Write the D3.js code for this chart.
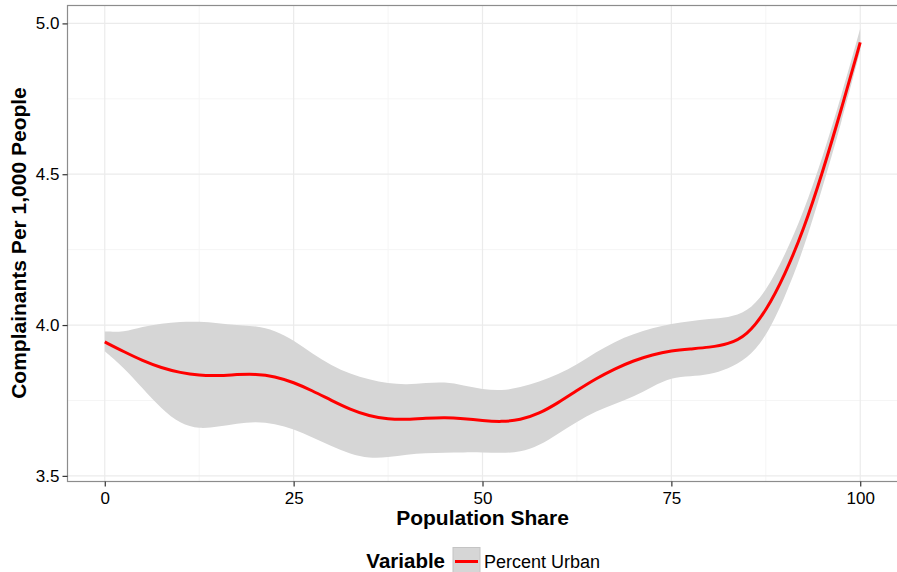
<!DOCTYPE html>
<html>
<head>
<meta charset="utf-8">
<script src="https://cdn.jsdelivr.net/npm/d3@7"></script>
<style>
  body { margin: 0; background: #fff; }
  svg { display: block; font-family: "Liberation Sans", Arial, sans-serif; }
</style>
</head>
<body>
<svg id="chart" width="897" height="572"></svg>
<script>
// values
const share = [0, 2.5, 5, 7.5, 10, 12.5, 15, 17.5, 20, 22.5, 25, 27.5, 30, 32.5, 35, 37.5, 40,
  42.5, 45, 47.5, 50, 52.5, 55, 57.5, 60, 62.5, 65, 67.5, 70, 72.5, 75, 77.5, 80, 82.5, 85,
  87.5, 90, 92.5, 95, 97.5, 100];
const fit = [3.944, 3.912, 3.882, 3.858, 3.842, 3.833, 3.832, 3.836, 3.838, 3.830, 3.810, 3.782,
  3.750, 3.720, 3.698, 3.688, 3.687, 3.691, 3.694, 3.690, 3.683, 3.679, 3.685, 3.706, 3.742,
  3.783, 3.822, 3.855, 3.882, 3.902, 3.915, 3.921, 3.926, 3.936, 3.965, 4.045, 4.165, 4.315,
  4.505, 4.715, 4.937];
const upper = [3.979, 3.976, 3.995, 4.005, 4.011, 4.012, 4.006, 4.000, 3.997, 3.983, 3.950, 3.905,
  3.866, 3.838, 3.819, 3.806, 3.802, 3.808, 3.812, 3.800, 3.787, 3.782, 3.793, 3.812, 3.836,
  3.868, 3.910, 3.945, 3.970, 3.990, 4.004, 4.013, 4.020, 4.025, 4.042, 4.110, 4.230, 4.375,
  4.555, 4.760, 4.983];
const lower = [3.913, 3.860, 3.790, 3.722, 3.672, 3.655, 3.663, 3.674, 3.680, 3.673, 3.655, 3.628,
  3.598, 3.572, 3.558, 3.561, 3.571, 3.575, 3.577, 3.578, 3.578, 3.576, 3.578, 3.600, 3.640,
  3.680, 3.714, 3.738, 3.762, 3.796, 3.826, 3.830, 3.835, 3.855, 3.888, 3.958, 4.090, 4.250,
  4.455, 4.670, 4.910];
const xTicks = [0, 25, 50, 75, 100];
const xMinor = [12.5, 37.5, 62.5, 87.5];
const yTicks = [3.5, 4.0, 4.5, 5.0];
const yMinor = [3.75, 4.25, 4.75];
const seriesName = "Percent Urban";

const data = share.map((s, i) => ({ x: s, fit: fit[i], hi: upper[i], lo: lower[i] }));

const panel = { left: 67, top: 5, right: 898, bottom: 481 };

const svg = d3.select("#chart");

const x = d3.scaleLinear().domain([-5, 105]).range([panel.left, panel.right]);
const y = d3.scaleLinear().domain([3.483, 5.061]).range([panel.bottom, panel.top]);

svg.append("clipPath").attr("id", "clip")
  .append("rect")
  .attr("x", panel.left).attr("y", panel.top)
  .attr("width", panel.right - panel.left).attr("height", panel.bottom - panel.top);

// grid
const grid = svg.append("g");
grid.selectAll(".vminor").data(xMinor).enter().append("line")
  .attr("x1", d => x(d)).attr("x2", d => x(d))
  .attr("y1", panel.top).attr("y2", panel.bottom)
  .attr("stroke", "#f5f5f5").attr("stroke-width", 1);
grid.selectAll(".hminor").data(yMinor).enter().append("line")
  .attr("y1", d => y(d)).attr("y2", d => y(d))
  .attr("x1", panel.left).attr("x2", panel.right)
  .attr("stroke", "#f5f5f5").attr("stroke-width", 1);
grid.selectAll(".vmajor").data(xTicks).enter().append("line")
  .attr("x1", d => x(d)).attr("x2", d => x(d))
  .attr("y1", panel.top).attr("y2", panel.bottom)
  .attr("stroke", "#ebebeb").attr("stroke-width", 1.2);
grid.selectAll(".hmajor").data(yTicks).enter().append("line")
  .attr("y1", d => y(d)).attr("y2", d => y(d))
  .attr("x1", panel.left).attr("x2", panel.right)
  .attr("stroke", "#ebebeb").attr("stroke-width", 1.2);

// ribbon + smooth line
const plot = svg.append("g").attr("clip-path", "url(#clip)");
const curve = d3.curveBasis;

plot.append("path")
  .datum(data)
  .attr("fill", "#d6d6d6")
  .attr("d", d3.area().curve(curve).x(d => x(d.x)).y0(d => y(d.lo)).y1(d => y(d.hi)));

plot.append("path")
  .datum(data)
  .attr("fill", "none")
  .attr("stroke", "#ff0000")
  .attr("stroke-width", 3)
  .attr("d", d3.line().curve(curve).x(d => x(d.x)).y(d => y(d.fit)));

// panel border
svg.append("rect")
  .attr("x", panel.left + 0.5).attr("y", panel.top + 0.5)
  .attr("width", panel.right - panel.left).attr("height", panel.bottom - panel.top)
  .attr("fill", "none").attr("stroke", "#8c8c8c").attr("stroke-width", 1.2);

// axes
const xAxis = svg.append("g")
  .attr("transform", `translate(0,${panel.bottom + 0.5})`)
  .call(d3.axisBottom(x).tickValues(xTicks).tickSize(5).tickPadding(5).tickFormat(d3.format("d")));
const yAxis = svg.append("g")
  .attr("transform", `translate(${panel.left + 0.5},0)`)
  .call(d3.axisLeft(y).tickValues(yTicks).tickSize(5).tickPadding(3).tickFormat(d3.format(".1f")));

[xAxis, yAxis].forEach(g => {
  g.select(".domain").remove();
  g.selectAll(".tick line").attr("stroke", "#333").attr("stroke-width", 1.2);
  g.selectAll(".tick text")
    .attr("fill", "#000")
    .style("font-size", "17px")
    .style("font-family", "'Liberation Sans', Arial, sans-serif");
});

svg.append("text")
  .attr("x", x(50)).attr("y", 525)
  .attr("text-anchor", "middle")
  .style("font-size", "21px").style("font-weight", "bold")
  .text("Population Share");

svg.append("text")
  .attr("transform", `translate(26,${(panel.top + panel.bottom) / 2}) rotate(-90)`)
  .attr("text-anchor", "middle")
  .style("font-size", "21px").style("font-weight", "bold")
  .text("Complainants Per 1,000 People");

// legend
const legend = svg.append("g");
legend.append("text")
  .attr("x", 445).attr("y", 568)
  .attr("text-anchor", "end")
  .style("font-size", "20.5px").style("font-weight", "bold")
  .text("Variable");
legend.append("rect")
  .attr("x", 453).attr("y", 547.5).attr("width", 27).attr("height", 27)
  .attr("fill", "#d6d6d6").attr("stroke", "#c4c4c4").attr("stroke-width", 1);
legend.append("line")
  .attr("x1", 455).attr("x2", 478).attr("y1", 561.5).attr("y2", 561.5)
  .attr("stroke", "#ff0000").attr("stroke-width", 3);
legend.append("text")
  .attr("x", 484).attr("y", 568)
  .style("font-size", "18px")
  .text(seriesName);
</script>
</body>
</html>
